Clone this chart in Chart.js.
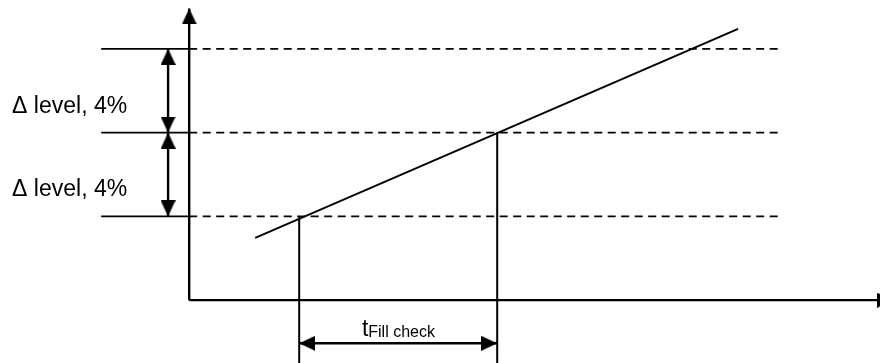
<!DOCTYPE html>
<html>
<head>
<meta charset="utf-8">
<script src="https://cdn.jsdelivr.net/npm/chart.js@4/dist/chart.umd.min.js"></script>
<style>
  body { margin: 0; background: #fff; }
  #wrap { width: 880px; height: 363px; position: relative; }
</style>
</head>
<body>
<div id="wrap"><canvas id="chart"></canvas></div>
<script>
// levels in %, time in arbitrary units
const levels = [4, 8, 12];
const levelStart = -4;
const levelEnd = 27;
const rampStart = [3, 2.97];
const rampEnd = [24.95, 12.95];
const tCheckStart = 5;
const tCheckEnd = 14;
const axisTopY = 13.93;
const axisRightX = 32;
const deltaArrowX = -0.96;
const timeArrowY = -2.06;
const deltaLabel = 'Δ level, 4%';
const timeLabel = 't';
const timeLabelSub = 'Fill check';

function make_arrow() {
  const c = document.createElement('canvas');
  c.width = 15;
  c.height = 32;
  const g = c.getContext('2d');
  g.fillStyle = '#000';
  g.beginPath();
  g.moveTo(7.5, 16);
  g.lineTo(15, 32);
  g.lineTo(0, 32);
  g.closePath();
  g.fill();
  return c;
}
const arrow = make_arrow();

function line(points, extra) {
  return Object.assign({
    data: points.map((p) => ({x: p[0], y: p[1]})),
    showLine: true,
    borderColor: '#000',
    borderWidth: 2,
    pointRadius: 0,
    pointStyle: arrow,
  }, extra || {});
}

let datasets = [];

levels.forEach((lv) => {
  datasets.push(line([[levelStart, lv], [0, lv], [levelEnd, lv]], {
    borderWidth: 1.8,
    segment: {
      borderDash: (c) => c.p0.parsed.x < 0 ? [] : [8, 5.5],
    },
  }));
});

// axes
datasets.push(line([[0, 0], [0, axisTopY]], {borderWidth: 2.4, pointRadius: [0, 15], pointRotation: [0, 0]}));
datasets.push(line([[0, 0], [axisRightX, 0]], {borderWidth: 2.4, pointRadius: [0, 15], pointRotation: [0, 90]}));

// ramp
datasets.push(line([rampStart, rampEnd]));

// verticals down from crossings
datasets.push(line([[tCheckStart, levels[0]], [tCheckStart, -3.5]]));
datasets.push(line([[tCheckEnd, levels[1]], [tCheckEnd, -3.5]]));

// delta arrows
datasets.push(line([[deltaArrowX, levels[2]], [deltaArrowX, levels[1]]], {borderWidth: 2.4, pointRadius: 15, pointRotation: [0, 180]}));
datasets.push(line([[deltaArrowX, levels[1]], [deltaArrowX, levels[0]]], {borderWidth: 2.4, pointRadius: 15, pointRotation: [0, 180]}));

// time arrow
datasets.push(line([[tCheckStart, timeArrowY], [tCheckEnd, timeArrowY]], {borderWidth: 2.4, pointRadius: 15, pointRotation: [270, 90]}));

const labelsPlugin = {
  id: 'labels',
  afterDatasetsDraw(chart) {
    const ctx = chart.ctx;
    const xs = chart.scales.x;
    const ys = chart.scales.y;
    ctx.save();
    ctx.fillStyle = '#000';
    ctx.textBaseline = 'alphabetic';
    ctx.textAlign = 'left';
    ctx.font = '23px "Liberation Sans", Arial, sans-serif';
    ctx.fillText(deltaLabel, xs.getPixelForValue(-8.05), ys.getPixelForValue(8.94));
    ctx.fillText(deltaLabel, xs.getPixelForValue(-8.05), ys.getPixelForValue(4.97));
    const tx = xs.getPixelForValue(7.85);
    const ty = ys.getPixelForValue(-1.71);
    ctx.fillText(timeLabel, tx, ty);
    const tw = ctx.measureText(timeLabel).width;
    ctx.font = '16px "Liberation Sans", Arial, sans-serif';
    ctx.fillText(timeLabelSub, tx + tw, ty + 1);
    ctx.restore();
  },
};

new Chart('chart', {
  type: 'scatter',
  data: {datasets: datasets},
  plugins: [labelsPlugin],
  options: {
    responsive: true,
    maintainAspectRatio: false,
    animation: false,
    events: [],
    layout: {padding: 0, autoPadding: false},
    plugins: {
      legend: {display: false},
      tooltip: {enabled: false},
    },
    scales: {
      x: {type: 'linear', display: false, min: -8.6, max: 31.4},
      y: {type: 'linear', display: false, min: -3, max: 14.33},
    },
  },
});
</script>
</body>
</html>
